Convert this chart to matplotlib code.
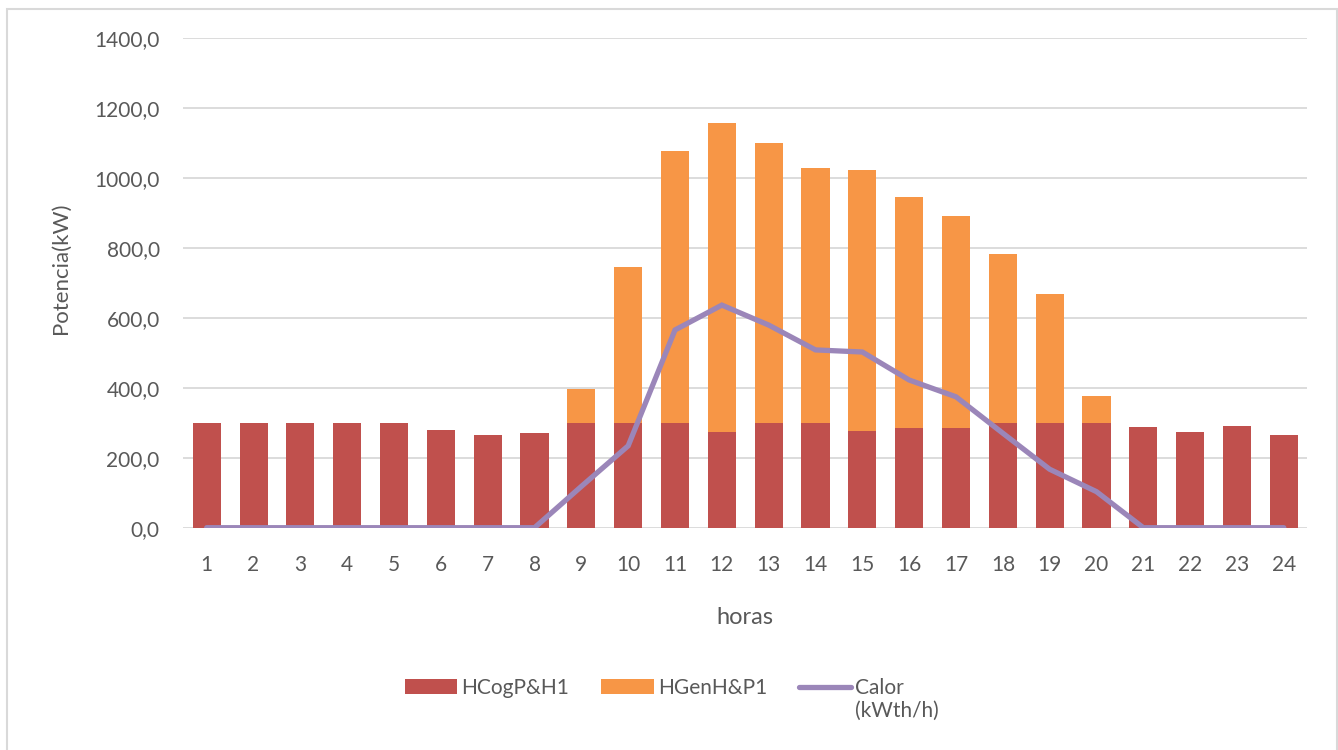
import matplotlib
matplotlib.use("Agg")
import matplotlib.pyplot as plt
from matplotlib.patches import Rectangle
from matplotlib.ticker import FuncFormatter, MultipleLocator
import numpy as np

plt.rcParams['font.family'] = ['Lato', 'DejaVu Sans']

horas = list(range(1, 25))
hcog = [300, 300, 300, 300, 300, 278, 265, 272, 300, 300, 300, 273,
        300, 300, 277, 284, 286, 300, 300, 300, 289, 273, 291, 264]
hgen = [0, 0, 0, 0, 0, 0, 0, 0, 97, 446, 777, 883,
        800, 728, 744, 661, 604, 482, 367, 75, 0, 0, 0, 0]
calor = [0, 0, 0, 0, 0, 0, 0, 0, 118, 234, 565, 636,
         579, 508, 502, 422, 374, 270, 167, 103, 0, 0, 0, 0]

c_red = '#c0504d'
c_orange = '#f79646'
c_purple = '#9b86b9'
c_text = '#595959'
c_grid = '#d9d9d9'

fig = plt.figure(figsize=(13.38, 7.5), dpi=100)
ax = fig.add_axes([0.137, 0.2964, 0.84, 0.6533])

x = np.arange(len(horas))
b1 = ax.bar(x, hcog, width=0.6, color=c_red, linewidth=0, zorder=2, label='HCogP&H1')
b2 = ax.bar(x, hgen, width=0.6, bottom=hcog, color=c_orange, linewidth=0, zorder=2,
            label='HGenH&P1')
ln, = ax.plot(x, calor, color=c_purple, lw=3.8, solid_capstyle='round',
              solid_joinstyle='miter', zorder=3, label='Calor')

ax.set_xlim(-0.5, len(horas) - 0.5)
ax.set_ylim(0, 1400)
ax.yaxis.set_major_locator(MultipleLocator(200))
ax.yaxis.set_major_formatter(FuncFormatter(lambda v, p: f"{v:.1f}".replace('.', ',')))
ax.set_xticks(x)
ax.set_xticklabels([str(h) for h in horas])
ax.grid(axis='y', color=c_grid, lw=1.3, zorder=0)
ax.set_axisbelow(True)
for s in ax.spines.values():
    s.set_visible(False)
ax.tick_params(axis='both', length=0, colors=c_text, labelsize=15)
ax.tick_params(axis='y', pad=17)
ax.tick_params(axis='x', pad=20)

ax.set_ylabel('Potencia(kW)', color=c_text, fontsize=16)
ax.set_xlabel('horas', color=c_text, fontsize=17)
ax.yaxis.label.set_va('center')
ax.xaxis.label.set_va('center')
ax.yaxis.set_label_coords(-0.1088, 0.530)
ax.xaxis.set_label_coords(0.500, -0.184)

# outer chart frame
fig.patches.append(Rectangle((7 / 1338, -0.05), (1336.5 - 7) / 1338, 1.05 - 9.5 / 750,
                             transform=fig.transFigure, fill=False,
                             edgecolor=c_grid, lw=1.5))

leg = fig.legend(handles=[b1, b2, ln], loc='center left',
                 bbox_to_anchor=(405 / 1338, 1 - 688 / 750),
                 ncol=3, frameon=False, fontsize=15, handlelength=2.5, handleheight=0.7,
                 handletextpad=0.2, columnspacing=1.55, labelcolor=c_text,
                 borderpad=0, borderaxespad=0)

fig.canvas.draw()
r = fig.canvas.get_renderer()
bb = leg.get_texts()[2].get_window_extent(r)
fig.text(bb.x0 / fig.bbox.width, (bb.y0 - 3) / fig.bbox.height, '(kWth/h)',
         ha='left', va='top', fontsize=15, color=c_text)

fig.savefig('out.png', dpi=100)
